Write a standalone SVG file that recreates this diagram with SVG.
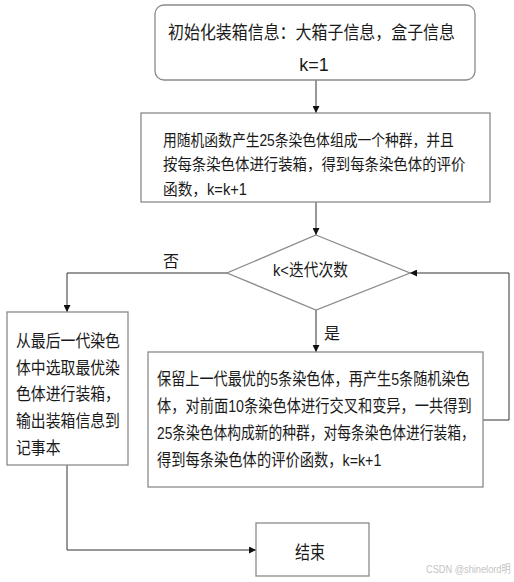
<svg xmlns="http://www.w3.org/2000/svg" width="514" height="582" viewBox="0 0 514 582">
<style>
.box{fill:#fff;stroke:#8a8a8a;stroke-width:1.3}
.ln{fill:none;stroke:#333;stroke-width:1}
text{font-family:"Liberation Sans","Noto Sans CJK SC",sans-serif;fill:#1a1a1a}
.t18{font-size:18px}
.t17{font-size:17px}
.t16{font-size:16px}
</style>
<defs>
<marker id="ah" viewBox="0 0 10 10" refX="10" refY="5" markerWidth="7" markerHeight="7" markerUnits="userSpaceOnUse" orient="auto">
<path d="M0,0 L10,5 L0,10 z" fill="#111"/>
</marker>
</defs>
<rect width="514" height="582" fill="#fff"/>
<g id="connectors">
<line class="ln" x1="316" y1="80" x2="316" y2="113" marker-end="url(#ah)"/>
<line class="ln" x1="316" y1="202" x2="316" y2="235" marker-end="url(#ah)"/>
<polyline class="ln" points="227,273 67,273 67,312" marker-end="url(#ah)"/>
<line class="ln" x1="316" y1="310" x2="316" y2="352" marker-end="url(#ah)"/>
<polyline class="ln" points="483,420 509,420 509,273 410,273" marker-end="url(#ah)"/>
<polyline class="ln" points="67,465 67,550 256,550" marker-end="url(#ah)"/>
<text class="t16" x="171" y="267" text-anchor="middle">否</text>
<text class="t16" x="332" y="339" text-anchor="middle">是</text>
</g>
<g id="init">
<rect class="box" x="155" y="5" width="320" height="75" rx="9"/>
<text class="t18" transform="translate(168,39) scale(0.886,1)">初始化装箱信息：大箱子信息，盒子信息</text>
<text class="t18" x="314" y="71" text-anchor="middle">k=1</text>
</g>
<g id="population">
<rect class="box" x="141" y="113" width="349" height="89"/>
<text class="t16" transform="translate(163,146) scale(0.862,1)">用随机函数产生25条染色体组成一个种群，并且</text>
<text class="t16" transform="translate(163,170) scale(0.9,1)">按每条染色体进行装箱，得到每条染色体的评价</text>
<text class="t16" transform="translate(163,195) scale(0.918,1)">函数，k=k+1</text>
</g>
<g id="decision">
<polygon class="box" points="316,235 410,273 316,310 227,273"/>
<text class="t17" transform="translate(273,276) scale(0.868,1)">k&lt;迭代次数</text>
</g>
<g id="output">
<rect class="box" x="7" y="312" width="121" height="153"/>
<text class="t17" transform="translate(16,347) scale(0.874,1)">从最后一代染色</text>
<text class="t17" transform="translate(16,374) scale(0.874,1)">体中选取最优染</text>
<text class="t17" transform="translate(16,400) scale(0.874,1)">色体进行装箱，</text>
<text class="t17" transform="translate(16,427) scale(0.874,1)">输出装箱信息到</text>
<text class="t17" transform="translate(16,454) scale(0.874,1)">记事本</text>
</g>
<g id="evolve">
<rect class="box" x="148" y="352" width="335" height="135"/>
<text class="t17" transform="translate(157,385) scale(0.833,1)">保留上一代最优的5条染色体，再产生5条随机染色</text>
<text class="t17" transform="translate(157,412) scale(0.838,1)">体，对前面10条染色体进行交叉和变异，一共得到</text>
<text class="t17" transform="translate(157,439) scale(0.809,1)">25条染色体构成新的种群，对每条染色体进行装箱，</text>
<text class="t17" transform="translate(157,466) scale(0.84,1)">得到每条染色体的评价函数，k=k+1</text>
</g>
<g id="end">
<rect class="box" x="256" y="523" width="113" height="53"/>
<text class="t18" transform="translate(295,559) scale(0.833,1)">结束</text>
</g>
<text transform="translate(426,573) scale(0.84,1)" font-size="11" style="fill:#c4c4c4">CSDN @shinelord明</text>
</svg>
